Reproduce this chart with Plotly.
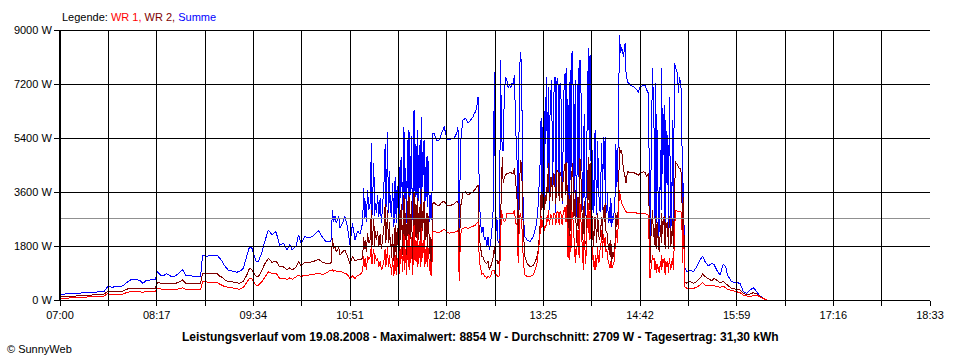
import plotly.graph_objects as go

# ---------------- data ----------------
time_labels = ["07:00", "08:17", "09:34", "10:51", "12:08", "13:25", "14:42", "15:59", "17:16", "18:33"]
power_ticks = [0, 1800, 3600, 5400, 7200, 9000]
average_w = 2709
title_text = ("Leistungsverlauf vom 19.08.2008 - Maximalwert: 8854 W - "
              "Durchschnitt: 2709 W - Tagesertrag: 31,30 kWh")
copyright_text = "© SunnyWeb"
legend_names = ["Legende: ", "WR 1, ", "WR 2, ", "Summe"]

# minutes after 07:00
minutes = [
    0, 5, 10, 15, 20, 25, 30, 35, 38, 42, 46, 50, 54, 57, 61, 64, 66, 69, 73, 76,
    77.5, 80, 82, 85, 88, 91, 95, 97.5, 100, 104, 108, 112, 113.5, 117, 121, 125, 127, 129, 131, 134,
    138, 141, 143,
    146, 149, 151, 153, 156, 158, 161, 163, 166, 169, 172, 175, 178, 181, 183, 185, 188, 190, 192, 195,
    198, 201, 204, 206, 209, 212, 215, 216, 217, 218, 219, 220, 222, 223, 225, 227, 229, 231, 233, 235,
    237, 239, 241, 242, 243, 245, 246, 247, 248, 249, 250, 251, 252, 254, 256, 258, 259, 260, 261, 262,
    263,
    264, 265, 266, 267, 268, 269, 270, 271, 272, 273, 274, 275, 276, 277, 278, 279, 280, 281, 282, 283,
    284, 285, 286, 287, 288, 289, 290, 291, 292, 293, 294, 295, 296,
    297, 298, 300, 302, 304, 306, 308, 310, 312, 314, 316, 317, 318, 319, 320, 321, 323, 325, 327, 329,
    330, 331, 332, 333, 334, 335, 336, 337, 338, 339, 340, 341, 342, 343, 344, 345,
    346, 347, 348, 349, 350, 351, 351.5, 352.3, 353, 354, 355, 356, 357, 358, 359, 360, 361, 362, 363, 364,
    365, 366, 367, 367.7, 368.5, 369, 370.4, 372, 374.4, 377, 379.7, 381, 382.4, 383.2, 384.5, 385.6, 386.4, 387.7, 389, 390.4,
    391.7, 393, 394.3, 395.6, 397, 398.3, 401, 402.3, 403.6, 404.4, 405.5, 406.3, 407.6, 408.4, 409.4, 410.5, 411.6, 412.9, 414.2, 415.5,
    416.9, 418.2, 419.5, 420.9, 422.2, 423, 423.8, 424.9, 426.2, 427.5, 428.9, 430.2, 431.5, 432.8, 434.2, 435.5, 436.8, 438.2, 439.5, 440.8,
    442.1, 443.5, 444.8, 445.6, 446.6, 447.4, 448.8, 450.1, 450.9, 452, 454.1, 456.8, 459.4, 460.7, 462.1, 464.7, 466, 467.4, 468.7, 470,
    471.3, 472, 472.7, 473.2, 474, 474.6, 475.3, 475.9, 476.7, 477.4, 478.4, 479.3, 480.6, 482, 483.3, 484.6, 485.4, 486.5, 487.3, 488.6,
    489.4, 490.2, 491.8, 492.6, 493.4, 494.4, 495.2, 496, 496.6, 497.4, 497.8, 499.2, 501.8, 504.5, 507.2, 509.8, 511.9, 513.8, 516.4, 519.1,
    521, 523.1, 525.7, 528.4, 530.3, 531.6, 535, 539, 541.7, 544.3, 547, 549.6, 552.3, 555, 557.6, 560.2, 561.6, 562.9,
]

summe = [
    190, 200, 210, 220, 230, 240, 260, 280, 440, 430, 450, 470, 610, 690, 680, 640, 560, 660, 670, 670,
    940, 830, 800, 880, 800, 780, 900, 1020, 830, 800, 780, 800, 1480, 1460, 1500, 1500, 1400, 1300, 1150, 1000,
    950, 930, 944,
    1050, 1500, 1780, 1720, 1300, 1280, 1610, 1940, 2330, 2170, 2280, 1830, 1890, 1670, 1850, 1670, 1800, 2170, 1890, 2110,
    2080, 2110, 2250, 2310, 2100, 1940, 1940, 2000, 3000, 2600, 2800, 2560, 2780, 2400, 2560, 2780, 2440, 1830, 2560, 2000,
    2300, 2200, 2560, 3720, 3300, 3670, 3000, 3200, 5220, 3330, 4560, 3220, 2900, 2780, 2560, 3800, 5200, 3300, 5610, 3600,
    2900,
    2780, 3890, 2440, 4100, 2560, 3330, 2330, 4670, 4780, 3000, 5780, 3440, 2560, 5330, 5670, 3650, 5450, 2670, 6330, 3440,
    4780, 5670, 3780, 5330, 6110, 3780, 5330, 4440, 4780, 4800, 3220, 2780, 2670,
    5560, 5560, 5330, 5330, 5560, 5780, 5390, 5330, 5390, 5400, 5560, 5780, 1900, 5220, 5670, 6000, 6060, 5890, 6000, 6100,
    6220, 6280, 6440, 6780, 3440, 2560, 2220, 2440, 2000, 2110, 1780, 2110, 1670, 1890, 2330, 3000,
    7610, 2110, 2780, 1890, 2000, 8000, 6000, 5000, 5000, 7000, 7440, 7330, 7060, 7170, 7060, 7220, 7220, 7500, 5670, 4780,
    2000, 7670, 8280, 7450, 4560, 2780, 2110, 2000, 1944, 2111, 2556, 3222, 4556, 6056, 5667, 4333, 6778, 7444, 7111, 6556,
    7333, 6778, 7444, 7222, 7000, 7222, 7167, 7556, 7722, 4556, 2333, 7667, 8222, 8278, 3444, 7333, 2778, 7722, 8000, 5667,
    3667, 3444, 4889, 8389, 8167, 4556, 3000, 2889, 5667, 2833, 3667, 2944, 5222, 5444, 5444, 2889, 2556, 2556, 2444, 2667,
    3444, 3778, 5667, 8833, 8222, 8444, 8111, 8556, 7556, 7278, 7167, 7111, 7000, 6944, 7111, 7167, 7167, 7000, 6889, 1889,
    6000, 7722, 6556, 5667, 2556, 7222, 2556, 5667, 2111, 2333, 5000, 7722, 5222, 2222, 3889, 2333, 6778, 2333, 2889, 2111,
    7889, 7778, 7556, 6889, 7444, 7222, 6778, 1889, 3889, 1444, 1056, 944, 1000, 944, 1111, 1333, 1467, 1278, 1133, 1222,
    1180, 1000, 833, 1200, 1111, 833, 611, 578, 556, 278, 222, 333, 411, 278, 133, 60, 22, 0,
]

wr2 = [
    100, 110, 115, 125, 140, 150, 170, 190, 290, 280, 290, 300, 370, 390, 390, 380, 370, 390, 390, 390,
    580, 560, 550, 560, 550, 540, 600, 670, 560, 555, 550, 556, 890, 880, 890, 880, 800, 760, 680, 611,
    600, 580, 556,
    620, 850, 1060, 1000, 800, 780, 1000, 1200, 1390, 1250, 1300, 1110, 1100, 1000, 1080, 1000, 1100, 1280, 1150, 1260,
    1260, 1270, 1320, 1360, 1260, 1220, 1220, 1250, 2060, 1700, 1800, 1600, 1750, 1500, 1600, 1670, 1450, 1220, 1450, 1300,
    1350, 1330, 1400, 2110, 2000, 2220, 1900, 2000, 3000, 2200, 2700, 2300, 2000, 1800, 1700, 2400, 3200, 2200, 3000, 2300,
    1800,
    1400, 2200, 1300, 2500, 1350, 2100, 1250, 3000, 3200, 1500, 3500, 2200, 1300, 3300, 3500, 2300, 3300, 1300, 3600, 2100,
    2900, 3400, 2300, 3200, 3700, 2300, 3300, 2700, 2900, 2900, 2000, 1300, 1250,
    3220, 3250, 3170, 3150, 3250, 3300, 3150, 3130, 3170, 3200, 3280, 3300, 1250, 3100, 3300, 3560, 3600, 3500, 3560, 3600,
    3670, 3700, 3780, 3830, 2100, 1800, 1440, 1440, 1300, 1250, 1220, 1300, 1000, 1100, 1300, 1400,
    1780, 1300, 1330, 1200, 1330, 2500, 3500, 4780, 3900, 4110, 4170, 4220, 4220, 4250, 4250, 4220, 4220, 4390, 3780, 3440,
    1440, 3890, 4670, 4500, 3200, 2330, 1440, 1222, 1111, 1150, 1400, 1667, 2500, 3556, 3300, 3222, 3500, 3778, 4556, 3444,
    4000, 4222, 3778, 4333, 4244, 4250, 4244, 4556, 4611, 2333, 1889, 3500, 4200, 4556, 2778, 3667, 1889, 3444, 4722, 3667,
    2333, 1889, 2111, 4778, 4556, 2778, 2000, 1778, 2778, 1889, 2333, 2111, 2778, 3111, 3222, 2222, 1667, 1444, 1222, 1444,
    1889, 2444, 3222, 5111, 4889, 5000, 4333, 4111, 3889, 4278, 4250, 4250, 4200, 4167, 4220, 4278, 4250, 4111, 4222, 1222,
    2500, 3000, 2111, 2400, 1800, 2800, 1700, 2600, 1778, 1600, 2500, 2900, 2700, 1700, 2400, 1700, 2800, 1800, 2100, 1700,
    3222, 4611, 4500, 4444, 4389, 4389, 4000, 1667, 3444, 1222, 611, 556, 611, 556, 620, 722, 867, 780, 722, 644,
    722, 667, 578, 611, 560, 500, 389, 350, 333, 222, 167, 200, 244, 200, 120, 33, 20, 0,
]

wr1 = [
    50, 60, 65, 75, 85, 100, 115, 130, 210, 180, 190, 200, 260, 280, 280, 270, 260, 280, 280, 280,
    390, 360, 355, 360, 355, 350, 370, 410, 360, 356, 356, 360, 610, 590, 590, 580, 520, 490, 450, 420,
    400, 380, 356,
    420, 620, 720, 700, 500, 500, 620, 750, 940, 880, 900, 720, 730, 680, 740, 690, 760, 830, 780, 830,
    830, 850, 870, 890, 850, 900, 980, 1000, 1000, 960, 990, 960, 960, 950, 930, 900, 850, 700, 800, 720,
    820, 850, 950, 1450, 1400, 1450, 1350, 1450, 1780, 1500, 1700, 1500, 1300, 1100, 1000, 1300, 1700, 1300, 1800, 1400,
    1100,
    850, 1400, 800, 1500, 850, 1200, 800, 1700, 1800, 950, 2200, 1300, 850, 2000, 2200, 1400, 2100, 850, 2500, 1300,
    1800, 2200, 1400, 2000, 2400, 1400, 2000, 1700, 1800, 1800, 1200, 850, 800,
    2280, 2300, 2250, 2250, 2300, 2370, 2270, 2230, 2250, 2250, 2300, 2330, 650, 2150, 2350, 2390, 2420, 2380, 2420, 2460,
    2480, 2500, 2560, 2580, 1300, 1000, 850, 900, 800, 800, 720, 800, 760, 780, 950, 1000,
    1000, 760, 850, 780, 800, 1800, 3000, 2800, 2700, 2600, 2650, 2890, 2890, 2890, 2900, 2890, 2890, 3000, 2560, 2560,
    1220, 2780, 2890, 2500, 2200, 1220, 833, 790, 778, 833, 1150, 1600, 2200, 2800, 2600, 2333, 2500, 2778, 3000, 2700,
    2800, 2900, 2850, 2900, 2930, 2944, 3000, 3100, 3167, 1444, 1333, 2200, 3000, 2800, 2111, 1222, 1500, 2333, 3222, 2000,
    1000, 1222, 2200, 3222, 3000, 2000, 1333, 1100, 1000, 1100, 1222, 1700, 2333, 2200, 2111, 1700, 1222, 1056, 1100, 1222,
    1700, 2333, 2800, 3667, 3400, 3222, 3100, 3000, 2950, 2911, 2911, 2900, 2889, 2889, 2900, 2911, 2889, 2850, 2833, 722,
    1300, 1500, 1333, 1400, 1000, 1300, 900, 1200, 1000, 900, 1300, 1500, 1300, 850, 1100, 900, 1400, 1000, 1250, 1000,
    2600, 3000, 2950, 2950, 2950, 2950, 2900, 1222, 2500, 800, 444, 389, 389, 389, 420, 500, 578, 500, 467, 480,
    480, 444, 430, 444, 420, 356, 311, 260, 244, 160, 133, 111, 150, 167, 100, 40, 22, 0,
]

# extra readings in the densely fluctuating cloud passages (between the samples above)
fine_minutes = [
    241.5, 242.5, 244, 247.5, 248.5, 249.5, 250.5, 253, 255, 257, 259.5, 260.5, 261.5, 262.5, 263.5,
    264.5, 265.5, 266.5, 267.5, 268.5, 269.5, 270.5, 271.5, 272.5, 273.5, 274.5, 275.5, 276.5, 277.5, 278.5,
    279.5, 280.5, 281.5, 282.5, 283.5, 284.5, 285.5, 286.5, 287.5, 288.5, 289.5, 290.5, 291.5, 292.5, 293.5,
    294.5, 295.5,
    382.8, 383.8, 385.0, 386.0, 387.0, 388.3, 389.7, 391.0, 392.3, 393.6, 395.0, 396.3, 397.6, 399.0, 400.0,
    401.6, 403.0,
    404.9, 405.9, 407.0, 408.9, 409.9, 411.0, 412.2, 413.5, 414.8, 416.2, 417.5, 418.8, 420.2, 421.5, 423.4,
    424.3, 425.5, 426.8, 428.2, 429.5, 430.8, 432.1, 433.5, 434.8, 436.1, 437.5, 438.8, 440.1, 441.5, 442.8,
    444.1,
    470.6, 478.9, 479.9, 481.3, 482.6, 484.0, 485.9, 487.9,
]
fine_summe = [
    3000, 2700, 2600, 4000, 2800, 4000, 2800, 3500, 3400, 3100, 3000, 4400, 2900, 4300, 3500,
    3300, 3000, 3600, 3000, 3800, 2600, 3900, 3400, 3800, 4300, 2900, 4400, 4000, 3000, 3000,
    4800, 3300, 4500, 3900, 5200, 3100, 3300, 5000, 3200, 4500, 5000, 3000, 3300, 3100, 4200,
    2600, 3500,
    5000, 3000, 6500, 3300, 5200, 4400, 3000, 7100, 3400, 7200, 2900, 7400, 3300, 7000, 3200,
    7300, 4000,
    6500, 3500, 4000, 6000, 5500, 4200, 6300, 3500, 7600, 3000, 6200, 2800, 7000, 5000, 6000,
    5000, 3200, 4200, 5300, 3200, 4300, 3000, 4000, 3200, 3600, 3100, 3400, 2800, 3000, 5200,
    4300,
    4500, 3000, 4200, 6500, 6000, 5500, 4800, 6000,
]
fine_wr2 = [
    1800, 1700, 1600, 2400, 1800, 2500, 1800, 2300, 2200, 2000, 1900, 2700, 1900, 2600, 2100,
    1900, 1600, 2200, 1700, 2400, 1500, 2600, 2000, 2400, 2800, 1600, 2900, 2500, 1800, 1700,
    3000, 2000, 2800, 2300, 3200, 1800, 2000, 3000, 1900, 2700, 3100, 1800, 2000, 1800, 2600,
    1500, 2100,
    2900, 3000, 3800, 3000, 3200, 3600, 3300, 4100, 3300, 4200, 3200, 4300, 3300, 4200, 3300,
    4300, 3500,
    3500, 2200, 2300, 3600, 3000, 2600, 3400, 2200, 4200, 2000, 3300, 1900, 3800, 3000, 3300,
    2800, 2100, 2500, 2900, 2000, 2600, 2000, 2600, 2300, 2200, 1900, 2000, 1600, 1800, 2900,
    2600,
    2000, 1900, 2200, 2800, 2600, 2600, 2400, 2700,
]
fine_wr1 = [
    1200, 1100, 1000, 1600, 1200, 1600, 1200, 1400, 1300, 1100, 1100, 1500, 1100, 1500, 1200,
    1200, 1000, 1300, 1000, 1400, 900, 1500, 1200, 1400, 1700, 1000, 1700, 1500, 1100, 1000,
    1800, 1200, 1700, 1400, 2000, 1100, 1200, 1900, 1100, 1700, 1900, 1100, 1200, 1100, 1600,
    900, 1300,
    2400, 2400, 2700, 2300, 2400, 2600, 2500, 2850, 2500, 2900, 2500, 2950, 2500, 2900, 2500,
    2950, 2600,
    2400, 1500, 1600, 2500, 2000, 1700, 2300, 1400, 2800, 1300, 2200, 1200, 2600, 2000, 2200,
    1800, 1300, 1500, 1800, 1300, 1800, 1400, 1800, 1600, 1500, 1200, 1300, 1100, 1300, 2100,
    1900,
    1000, 1000, 1100, 1400, 1300, 1300, 1200, 1400,
]

assert len(minutes) == len(summe) == len(wr2) == len(wr1), (len(minutes), len(summe), len(wr2), len(wr1))
assert len(fine_minutes) == len(fine_summe) == len(fine_wr2) == len(fine_wr1), (
    len(fine_minutes), len(fine_summe), len(fine_wr2), len(fine_wr1))

rows = sorted(zip(minutes + fine_minutes, summe + fine_summe, wr2 + fine_wr2, wr1 + fine_wr1))
t_all = [r[0] for r in rows]
series = {"Summe": [r[1] for r in rows], "WR 2": [r[2] for r in rows], "WR 1": [r[3] for r in rows]}

# ---------------- derived axis positions ----------------
def to_minutes(label):
    h, m = label.split(":")
    return int(h) * 60 + int(m) - 7 * 60

label_pos = [to_minutes(s) for s in time_labels]
grid_pos, grid_text = [], []
for i, p in enumerate(label_pos):
    grid_pos.append(p)
    grid_text.append(time_labels[i])
    if i + 1 < len(label_pos):
        grid_pos.append((p + label_pos[i + 1]) / 2)
        grid_text.append("")

FONT = "Liberation Sans, Arial, sans-serif"

fig = go.Figure()
for name, col in [("Summe", "#0000FF"), ("WR 2", "#800000"), ("WR 1", "#FF0000")]:
    fig.add_trace(go.Scatter(x=t_all, y=series[name], mode="lines", name=name,
                             line=dict(color=col, width=1), hoverinfo="skip"))

shapes = [dict(type="line", xref="x", yref="y", x0=label_pos[0], x1=label_pos[-1],
               y0=average_w, y1=average_w, line=dict(color="#909090", width=1), layer="above")]
for gp in grid_pos:
    shapes.append(dict(type="line", xref="x", yref="y", x0=gp, x1=gp, y0=power_ticks[0], y1=power_ticks[-1],
                       line=dict(color="#000000", width=1), layer="above"))
for pt in power_ticks:
    shapes.append(dict(type="line", xref="x", yref="y", x0=label_pos[0], x1=label_pos[-1], y0=pt, y1=pt,
                       line=dict(color="#000000", width=1), layer="above"))

legend_colors = ["#000000", "#FF0000", "#800000", "#0000FF"]
legend_html = "".join(f'<span style="color:{c}">{t}</span>' for t, c in zip(legend_names, legend_colors))

fig.update_layout(
    width=960, height=360,
    margin=dict(l=60, r=30, t=30, b=60),
    paper_bgcolor="white", plot_bgcolor="white",
    showlegend=False,
    font=dict(family=FONT, size=11, color="black"),
    shapes=shapes,
    xaxis=dict(range=[label_pos[0], label_pos[-1]], tickvals=grid_pos, ticktext=grid_text,
               showgrid=False, zeroline=False, showline=True, linecolor="black", linewidth=1,
               ticks="outside", ticklen=5, tickcolor="black", tickwidth=1, layer="above traces",
               tickfont=dict(family=FONT, size=11, color="black")),
    yaxis=dict(range=[power_ticks[0], power_ticks[-1]], tickvals=power_ticks,
               ticktext=[f"{v} W" for v in power_ticks],
               showgrid=False, zeroline=False, showline=True, linecolor="black", linewidth=1,
               ticks="outside", ticklen=5, tickcolor="black", tickwidth=1, layer="above traces",
               tickfont=dict(family=FONT, size=11, color="black")),
    annotations=[
        dict(text=legend_html, xref="paper", yref="paper", x=0, y=1 + 13 / 270,
             xanchor="left", yanchor="middle", showarrow=False, font=dict(family=FONT, size=11)),
        dict(text=f"<b>{title_text}</b>", xref="paper", yref="paper", x=420 / 870, y=-37 / 270,
             xanchor="center", yanchor="middle", showarrow=False, font=dict(family=FONT, size=12)),
        dict(text=copyright_text, xref="paper", yref="paper", x=-55 / 870, y=-48.5 / 270,
             xanchor="left", yanchor="middle", showarrow=False, font=dict(family=FONT, size=11)),
    ],
)

post_js = (
    "document.body.style.margin='0px';"
    "var st=document.createElement('style');"
    "st.textContent='.scatterlayer path.js-line, .shapelayer path{shape-rendering:crispEdges;}';"
    "document.head.appendChild(st);"
)

fig.write_html("out.html", post_script=post_js, config={"displayModeBar": False, "staticPlot": True})
